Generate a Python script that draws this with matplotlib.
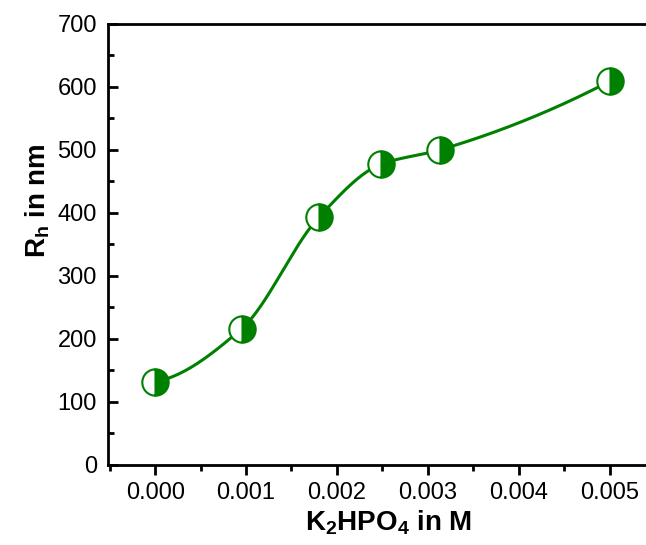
import matplotlib
matplotlib.use('Agg')
import matplotlib.pyplot as plt
import numpy as np

conc = [0.0, 0.00095, 0.0018, 0.00248, 0.00313, 0.005]
rh = [132, 216, 393, 477, 500, 609]

x_ticks = [0.000, 0.001, 0.002, 0.003, 0.004, 0.005]
y_ticks = [0, 100, 200, 300, 400, 500, 600, 700]

plt.rcParams['font.family'] = 'Liberation Sans'
plt.rcParams['mathtext.fontset'] = 'custom'
plt.rcParams['mathtext.rm'] = 'Liberation Sans:bold'
plt.rcParams['mathtext.bf'] = 'Liberation Sans:bold'
plt.rcParams['mathtext.it'] = 'Liberation Sans:bold'

GREEN = '#008000'


def pchip_curve(x, y, n=300):
    """Monotone cubic (Fritsch-Carlson) curve through the points."""
    x = np.asarray(x, float)
    y = np.asarray(y, float)
    h = np.diff(x)
    d = np.diff(y) / h
    k = len(x)
    m = np.zeros(k)
    for i in range(1, k - 1):
        if d[i - 1] * d[i] <= 0:
            m[i] = 0
        else:
            w1 = 2 * h[i] + h[i - 1]
            w2 = h[i] + 2 * h[i - 1]
            m[i] = (w1 + w2) / (w1 / d[i - 1] + w2 / d[i])
    m[0] = ((2 * h[0] + h[1]) * d[0] - h[0] * d[1]) / (h[0] + h[1])
    m[-1] = ((2 * h[-1] + h[-2]) * d[-1] - h[-1] * d[-2]) / (h[-1] + h[-2])
    xs = np.linspace(x[0], x[-1], n)
    idx = np.clip(np.searchsorted(x, xs) - 1, 0, k - 2)
    hh = h[idx]
    t = (xs - x[idx]) / hh
    h00 = 2 * t**3 - 3 * t**2 + 1
    h10 = t**3 - 2 * t**2 + t
    h01 = -2 * t**3 + 3 * t**2
    h11 = t**3 - t**2
    ys = (h00 * y[idx] + h10 * hh * m[idx]
          + h01 * y[idx + 1] + h11 * hh * m[idx + 1])
    return xs, ys


fig = plt.figure(figsize=(6.46, 5.45), dpi=100)
ax = fig.add_axes([0.167, 0.147, 0.833, 0.809])

xs, ys = pchip_curve(conc, rh)
ax.plot(xs, ys, color=GREEN, lw=2.2, zorder=2)
ax.plot(conc, rh, ls='none', marker='o', ms=19, fillstyle='right',
        markerfacecolor=GREEN, markerfacecoloralt='white',
        markeredgecolor=GREEN, markeredgewidth=1.5, zorder=3)

ax.set_xlim(-0.00052, 0.0054)
ax.set_ylim(0, 700)
ax.set_xticks(x_ticks)
ax.set_xticklabels(['%.3f' % v for v in x_ticks])
ax.set_yticks(y_ticks)
ax.set_xticks(np.arange(-0.0005, 0.0054, 0.001), minor=True)
ax.set_yticks(np.arange(50, 700, 100), minor=True)

ax.tick_params(axis='x', which='major', direction='out', length=7, width=2,
               labelsize=17, pad=5)
ax.tick_params(axis='x', which='minor', direction='out', length=4, width=2)
ax.tick_params(axis='y', which='major', direction='in', length=7, width=2,
               labelsize=17, pad=8)
ax.tick_params(axis='y', which='minor', direction='in', length=4, width=2)
ax.tick_params(top=False, right=False, which='both')

for s in ['left', 'bottom', 'top']:
    ax.spines[s].set_linewidth(2)
ax.spines['right'].set_visible(False)

ax.set_xlabel(r'$\mathbf{K_2HPO_4}$ in M', fontsize=20, fontweight='bold')
ax.set_ylabel(r'$\mathbf{R_h}$ in nm', fontsize=20, fontweight='bold')
ax.xaxis.set_label_coords(0.522, -0.098)
ax.yaxis.set_label_coords(-0.104, 0.60)

fig.savefig('out.png', dpi=100)
